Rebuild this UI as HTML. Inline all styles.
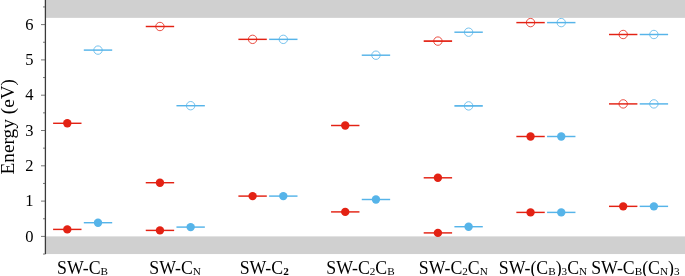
<!DOCTYPE html>
<html><head><meta charset="utf-8"><style>
html,body{margin:0;padding:0;background:#fff;}
body{width:685px;height:276px;overflow:hidden;}
svg{display:block;will-change:transform;}
.t{font-family:"Liberation Serif",serif;font-size:16.5px;fill:#000;}
.yl{font-size:19.3px;}
.xl{font-size:17.8px;}
.sub{font-size:11.2px;}
.bd{font-weight:bold;}
</style></head><body>
<svg width="685" height="276" viewBox="0 0 685 276">
<rect x="45.4" y="0" width="640" height="17.85" fill="#d0d0d0"/>
<rect x="45.4" y="236.40" width="640" height="17.65" fill="#d0d0d0"/>
<line x1="53.10" x2="81.50" y1="123.30" y2="123.30" stroke="#e32214" stroke-width="1.45"/>
<circle cx="67.30" cy="123.30" r="4.2" fill="#e32214"/>
<line x1="53.10" x2="81.50" y1="229.40" y2="229.40" stroke="#e32214" stroke-width="1.45"/>
<circle cx="67.30" cy="229.40" r="4.2" fill="#e32214"/>
<line x1="83.80" x2="112.20" y1="50.10" y2="50.10" stroke="#56b4e9" stroke-width="1.45"/>
<circle cx="98.00" cy="50.10" r="4.2" fill="none" stroke="#56b4e9" stroke-width="0.8"/>
<line x1="83.80" x2="112.20" y1="222.70" y2="222.70" stroke="#56b4e9" stroke-width="1.45"/>
<circle cx="98.00" cy="222.70" r="4.2" fill="#56b4e9"/>
<line x1="145.75" x2="174.15" y1="26.50" y2="26.50" stroke="#e32214" stroke-width="1.45"/>
<circle cx="159.95" cy="26.50" r="4.2" fill="none" stroke="#e32214" stroke-width="0.8"/>
<line x1="145.75" x2="174.15" y1="182.70" y2="182.70" stroke="#e32214" stroke-width="1.45"/>
<circle cx="159.95" cy="182.70" r="4.2" fill="#e32214"/>
<line x1="145.75" x2="174.15" y1="230.40" y2="230.40" stroke="#e32214" stroke-width="1.45"/>
<circle cx="159.95" cy="230.40" r="4.2" fill="#e32214"/>
<line x1="176.45" x2="204.85" y1="105.70" y2="105.70" stroke="#56b4e9" stroke-width="1.45"/>
<circle cx="190.65" cy="105.70" r="4.2" fill="none" stroke="#56b4e9" stroke-width="0.8"/>
<line x1="176.45" x2="204.85" y1="227.10" y2="227.10" stroke="#56b4e9" stroke-width="1.45"/>
<circle cx="190.65" cy="227.10" r="4.2" fill="#56b4e9"/>
<line x1="238.40" x2="266.80" y1="39.35" y2="39.35" stroke="#e32214" stroke-width="1.45"/>
<circle cx="252.60" cy="39.35" r="4.2" fill="none" stroke="#e32214" stroke-width="0.8"/>
<line x1="238.40" x2="266.80" y1="196.10" y2="196.10" stroke="#e32214" stroke-width="1.45"/>
<circle cx="252.60" cy="196.10" r="4.2" fill="#e32214"/>
<line x1="269.10" x2="297.50" y1="39.35" y2="39.35" stroke="#56b4e9" stroke-width="1.45"/>
<circle cx="283.30" cy="39.35" r="4.2" fill="none" stroke="#56b4e9" stroke-width="0.8"/>
<line x1="269.10" x2="297.50" y1="196.10" y2="196.10" stroke="#56b4e9" stroke-width="1.45"/>
<circle cx="283.30" cy="196.10" r="4.2" fill="#56b4e9"/>
<line x1="331.05" x2="359.45" y1="125.50" y2="125.50" stroke="#e32214" stroke-width="1.45"/>
<circle cx="345.25" cy="125.50" r="4.2" fill="#e32214"/>
<line x1="331.05" x2="359.45" y1="211.90" y2="211.90" stroke="#e32214" stroke-width="1.45"/>
<circle cx="345.25" cy="211.90" r="4.2" fill="#e32214"/>
<line x1="361.75" x2="390.15" y1="55.20" y2="55.20" stroke="#56b4e9" stroke-width="1.45"/>
<circle cx="375.95" cy="55.20" r="4.2" fill="none" stroke="#56b4e9" stroke-width="0.8"/>
<line x1="361.75" x2="390.15" y1="199.50" y2="199.50" stroke="#56b4e9" stroke-width="1.45"/>
<circle cx="375.95" cy="199.50" r="4.2" fill="#56b4e9"/>
<line x1="423.70" x2="452.10" y1="41.10" y2="41.10" stroke="#e32214" stroke-width="1.7"/>
<circle cx="437.90" cy="41.10" r="4.2" fill="none" stroke="#e32214" stroke-width="0.8"/>
<line x1="423.70" x2="452.10" y1="177.80" y2="177.80" stroke="#e32214" stroke-width="1.45"/>
<circle cx="437.90" cy="177.80" r="4.2" fill="#e32214"/>
<line x1="423.70" x2="452.10" y1="232.90" y2="232.90" stroke="#e32214" stroke-width="1.45"/>
<circle cx="437.90" cy="232.90" r="4.2" fill="#e32214"/>
<line x1="454.40" x2="482.80" y1="32.20" y2="32.20" stroke="#56b4e9" stroke-width="1.45"/>
<circle cx="468.60" cy="32.20" r="4.2" fill="none" stroke="#56b4e9" stroke-width="0.8"/>
<line x1="454.40" x2="482.80" y1="105.90" y2="105.90" stroke="#56b4e9" stroke-width="1.7"/>
<circle cx="468.60" cy="105.90" r="4.2" fill="none" stroke="#56b4e9" stroke-width="0.8"/>
<line x1="454.40" x2="482.80" y1="226.70" y2="226.70" stroke="#56b4e9" stroke-width="1.45"/>
<circle cx="468.60" cy="226.70" r="4.2" fill="#56b4e9"/>
<line x1="516.35" x2="544.75" y1="22.60" y2="22.60" stroke="#e32214" stroke-width="1.45"/>
<circle cx="530.55" cy="22.60" r="4.2" fill="none" stroke="#e32214" stroke-width="0.8"/>
<line x1="516.35" x2="544.75" y1="136.50" y2="136.50" stroke="#e32214" stroke-width="1.45"/>
<circle cx="530.55" cy="136.50" r="4.2" fill="#e32214"/>
<line x1="516.35" x2="544.75" y1="212.40" y2="212.40" stroke="#e32214" stroke-width="1.45"/>
<circle cx="530.55" cy="212.40" r="4.2" fill="#e32214"/>
<line x1="547.05" x2="575.45" y1="22.60" y2="22.60" stroke="#56b4e9" stroke-width="1.45"/>
<circle cx="561.25" cy="22.60" r="4.2" fill="none" stroke="#56b4e9" stroke-width="0.8"/>
<line x1="547.05" x2="575.45" y1="136.50" y2="136.50" stroke="#56b4e9" stroke-width="1.45"/>
<circle cx="561.25" cy="136.50" r="4.2" fill="#56b4e9"/>
<line x1="547.05" x2="575.45" y1="212.40" y2="212.40" stroke="#56b4e9" stroke-width="1.45"/>
<circle cx="561.25" cy="212.40" r="4.2" fill="#56b4e9"/>
<line x1="609.00" x2="637.40" y1="34.50" y2="34.50" stroke="#e32214" stroke-width="1.45"/>
<circle cx="623.20" cy="34.50" r="4.2" fill="none" stroke="#e32214" stroke-width="0.8"/>
<line x1="609.00" x2="637.40" y1="103.90" y2="103.90" stroke="#e32214" stroke-width="1.45"/>
<circle cx="623.20" cy="103.90" r="4.2" fill="none" stroke="#e32214" stroke-width="0.8"/>
<line x1="609.00" x2="637.40" y1="206.35" y2="206.35" stroke="#e32214" stroke-width="1.45"/>
<circle cx="623.20" cy="206.35" r="4.2" fill="#e32214"/>
<line x1="639.70" x2="668.10" y1="34.50" y2="34.50" stroke="#56b4e9" stroke-width="1.45"/>
<circle cx="653.90" cy="34.50" r="4.2" fill="none" stroke="#56b4e9" stroke-width="0.8"/>
<line x1="639.70" x2="668.10" y1="103.90" y2="103.90" stroke="#56b4e9" stroke-width="1.45"/>
<circle cx="653.90" cy="103.90" r="4.2" fill="none" stroke="#56b4e9" stroke-width="0.8"/>
<line x1="639.70" x2="668.10" y1="206.35" y2="206.35" stroke="#56b4e9" stroke-width="1.45"/>
<circle cx="653.90" cy="206.35" r="4.2" fill="#56b4e9"/>
<line x1="45.4" x2="45.4" y1="0" y2="254.05" stroke="#3a3a3a" stroke-width="1.3"/>
<line x1="43.0" x2="45.4" y1="254.05" y2="254.05" stroke="#4a4a4a" stroke-width="0.75"/>
<line x1="41.0" x2="45.4" y1="236.40" y2="236.40" stroke="#4a4a4a" stroke-width="0.75"/>
<text x="29.3" y="241.60" class="t" text-anchor="middle">0</text>
<line x1="43.0" x2="45.4" y1="218.75" y2="218.75" stroke="#4a4a4a" stroke-width="0.75"/>
<line x1="41.0" x2="45.4" y1="201.10" y2="201.10" stroke="#4a4a4a" stroke-width="0.75"/>
<text x="29.3" y="206.30" class="t" text-anchor="middle">1</text>
<line x1="43.0" x2="45.4" y1="183.45" y2="183.45" stroke="#4a4a4a" stroke-width="0.75"/>
<line x1="41.0" x2="45.4" y1="165.80" y2="165.80" stroke="#4a4a4a" stroke-width="0.75"/>
<text x="29.3" y="171.00" class="t" text-anchor="middle">2</text>
<line x1="43.0" x2="45.4" y1="148.15" y2="148.15" stroke="#4a4a4a" stroke-width="0.75"/>
<line x1="41.0" x2="45.4" y1="130.50" y2="130.50" stroke="#4a4a4a" stroke-width="0.75"/>
<text x="29.3" y="135.70" class="t" text-anchor="middle">3</text>
<line x1="43.0" x2="45.4" y1="112.85" y2="112.85" stroke="#4a4a4a" stroke-width="0.75"/>
<line x1="41.0" x2="45.4" y1="95.20" y2="95.20" stroke="#4a4a4a" stroke-width="0.75"/>
<text x="29.3" y="100.40" class="t" text-anchor="middle">4</text>
<line x1="43.0" x2="45.4" y1="77.55" y2="77.55" stroke="#4a4a4a" stroke-width="0.75"/>
<line x1="41.0" x2="45.4" y1="59.90" y2="59.90" stroke="#4a4a4a" stroke-width="0.75"/>
<text x="29.3" y="65.10" class="t" text-anchor="middle">5</text>
<line x1="43.0" x2="45.4" y1="42.25" y2="42.25" stroke="#4a4a4a" stroke-width="0.75"/>
<line x1="41.0" x2="45.4" y1="24.60" y2="24.60" stroke="#4a4a4a" stroke-width="0.75"/>
<text x="29.3" y="29.80" class="t" text-anchor="middle">6</text>
<line x1="43.0" x2="45.4" y1="6.95" y2="6.95" stroke="#4a4a4a" stroke-width="0.75"/>
<text transform="translate(14.1,126.7) rotate(-90)" class="t yl" text-anchor="middle">Energy (eV)</text>
<text x="82.5" y="273.8" class="t xl" text-anchor="middle"><tspan>SW-C</tspan><tspan class="sub" dy="1.2">B</tspan></text>
<text x="175.1" y="273.8" class="t xl" text-anchor="middle"><tspan>SW-C</tspan><tspan class="sub" dy="1.2">N</tspan></text>
<text x="264.2" y="273.8" class="t xl" text-anchor="middle"><tspan>SW-C</tspan><tspan class="sub bd" dy="1.2">2</tspan></text>
<text x="360.5" y="273.8" class="t xl" text-anchor="middle"><tspan>SW-C</tspan><tspan class="sub" dy="1.2">2</tspan><tspan dy="-1.2">C</tspan><tspan class="sub" dy="1.2">B</tspan></text>
<text x="453.3" y="273.8" class="t xl" text-anchor="middle"><tspan>SW-C</tspan><tspan class="sub" dy="1.2">2</tspan><tspan dy="-1.2">C</tspan><tspan class="sub" dy="1.2">N</tspan></text>
<text x="543.0" y="273.8" class="t xl" text-anchor="middle"><tspan>SW-(C</tspan><tspan class="sub" dy="1.2">B</tspan><tspan dy="-1.2">)</tspan><tspan class="sub" dy="1.2">3</tspan><tspan dy="-1.2">C</tspan><tspan class="sub" dy="1.2">N</tspan></text>
<text x="635.4" y="273.8" class="t xl" text-anchor="middle"><tspan>SW-C</tspan><tspan class="sub" dy="1.2">B</tspan><tspan dy="-1.2">(C</tspan><tspan class="sub" dy="1.2">N</tspan><tspan dy="-1.2">)</tspan><tspan class="sub" dy="1.2">3</tspan></text>
</svg>
</body></html>
